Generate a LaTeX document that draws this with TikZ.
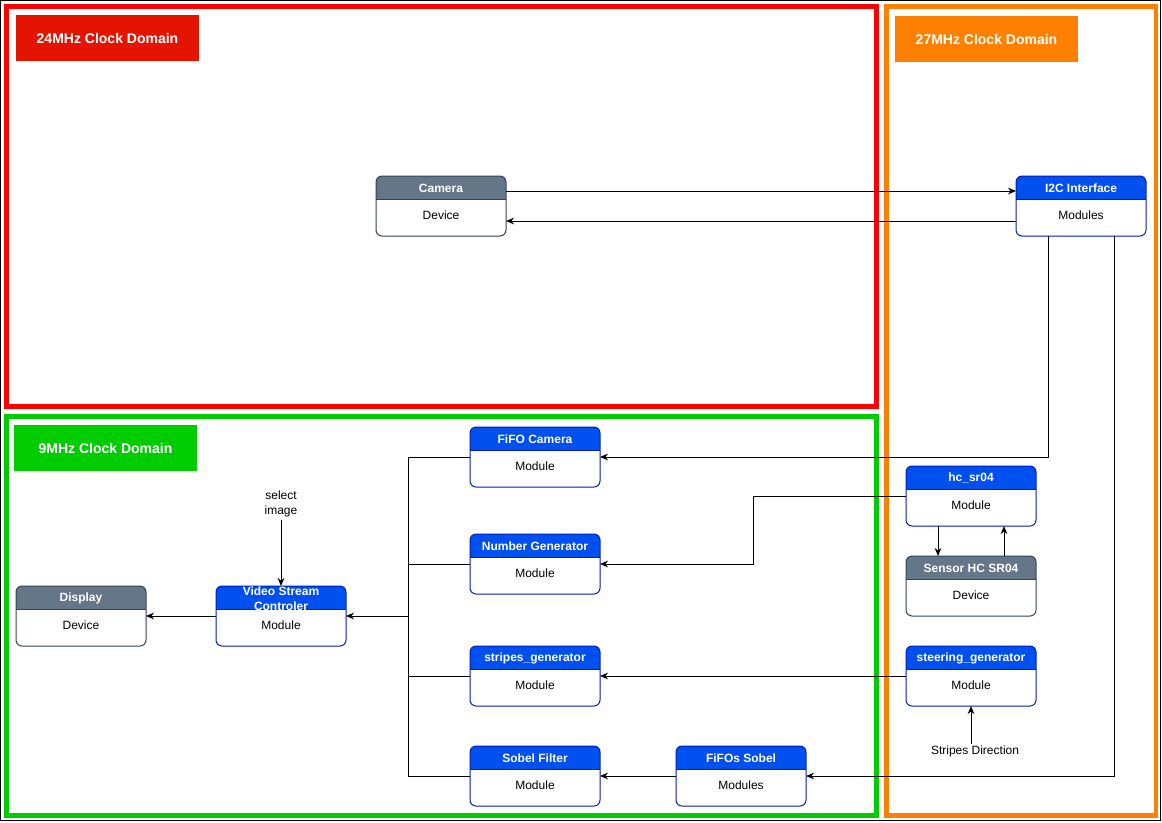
\documentclass[tikz,border=0pt]{standalone}
\usepackage{fontspec}
\setmainfont{Liberation Sans}
\usetikzlibrary{calc,arrows.meta}
\definecolor{grayfill}{HTML}{647687}
\definecolor{graystroke}{HTML}{314354}
\definecolor{bluefill}{HTML}{0050EF}
\definecolor{bluestroke}{HTML}{001DBC}
\definecolor{redframe}{HTML}{FF0000}
\definecolor{redlabel}{HTML}{E51400}
\definecolor{greenframe}{HTML}{00CC00}
\definecolor{orangeframe}{HTML}{FF8000}
\tikzset{
  boxbody/.style={rectangle, minimum width=97.5pt, minimum height=45pt, inner sep=0pt, outer sep=0pt, fill=white},
  titletext/.style={text=white, font=\bfseries\fontsize{9}{11.25}\selectfont, align=center, inner sep=0pt},
  bodytext/.style={font=\fontsize{9}{10.5}\selectfont, inner sep=0pt},
  domainlabel/.style={rectangle, minimum width=137.25pt, minimum height=34.5pt, inner sep=0pt, text=white, font=\bfseries\fontsize{10.5}{12}\selectfont},
  frame/.style={line width=3.6pt},
  conn/.style={draw=black, line width=0.75pt, -{Stealth[length=6pt,width=5pt]}},
  plainconn/.style={draw=black, line width=0.75pt},
  freetext/.style={font=\fontsize{9}{11.25}\selectfont, align=center, inner sep=0pt},
}
% name, center x, center y, title, body, fill, stroke
\newcommand{\swimbox}[7]{%
  \node[boxbody] (#1) at (#2,#3) {};
  \begin{scope}
    \clip[rounded corners=4.5pt] (#1.north west) rectangle (#1.south east);
    \fill[#6] (#1.north west) rectangle ($(#1.north east)+(0,23)$);
  \end{scope}
  \draw[#7, line width=0.75pt, rounded corners=4.5pt] (#1.north west) rectangle (#1.south east);
  \draw[#7, line width=0.75pt] ($(#1.north west)+(0,23)$) -- ($(#1.north east)+(0,23)$);
  \node[titletext] (#1-title) at ($(#1.north)+(0,12.2)$) {#4};
  \node[bodytext] (#1-body) at ($(#1.north)+(0,39.5)$) {#5};
}
\begin{document}
\begin{tikzpicture}[x=0.75pt,y=-0.75pt]
\useasboundingbox (0,0) rectangle (1162,822);
\fill[white] (0,0) rectangle (1162,822);
\draw[black, line width=1pt] (0.7,0.7) rectangle (1160.5,820.5);

% frames
\draw[frame, redframe] (6.5,6.5) rectangle (876.5,406.5);
\draw[frame, greenframe] (6.5,416.5) rectangle (876.5,815.5);
\draw[frame, orangeframe] (886.5,6.5) rectangle (1156,815.5);

% domain labels
\node[domainlabel, fill=redlabel] (lbl24) at (107.5,38) {24MHz Clock Domain};
\node[domainlabel, fill=orangeframe] (lbl27) at (986.5,39) {27MHz Clock Domain};
\node[domainlabel, fill=greenframe] (lbl9) at (105.5,448) {9MHz Clock Domain};

% boxes
\swimbox{cam}{441}{206}{Camera}{Device}{grayfill}{graystroke}
\swimbox{i2c}{1081}{206}{I2C Interface}{Modules}{bluefill}{bluestroke}
\swimbox{fifocam}{535}{457}{FiFO Camera}{Module}{bluefill}{bluestroke}
\swimbox{numgen}{535}{564}{Number Generator}{Module}{bluefill}{bluestroke}
\swimbox{stripes}{535}{676}{stripes\_generator}{Module}{bluefill}{bluestroke}
\swimbox{sobel}{535}{776}{Sobel Filter}{Module}{bluefill}{bluestroke}
\swimbox{fifosobel}{741}{776}{FiFOs Sobel}{Modules}{bluefill}{bluestroke}
\swimbox{hc}{971}{496}{hc\_sr04}{Module}{bluefill}{bluestroke}
\swimbox{sensor}{971}{586}{Sensor HC SR04}{Device}{grayfill}{graystroke}
\swimbox{steer}{971}{676}{steering\_generator}{Module}{bluefill}{bluestroke}
\swimbox{vsc}{281}{616}{Video Stream\\Controler}{Module}{bluefill}{bluestroke}
\swimbox{disp}{81}{616}{Display}{Device}{grayfill}{graystroke}

% free texts
\node[freetext] (sel) at (281,503.5) {select\\image};
\node[freetext] (sd) at (975,751.5) {Stripes Direction};

% connectors
\draw[conn] ($(cam.east)+(0,-15)$) -- ($(i2c.west)+(0,-15)$);
\draw[conn] ($(i2c.west)+(0,15)$) -- ($(cam.east)+(0,15)$);
\draw[conn] ($(i2c.south)+(-33,0)$) |- (fifocam.east);
\draw[conn] ($(i2c.south)+(33,0)$) |- (fifosobel.east);
\coordinate (hcmid) at ($(numgen.east)!0.5!(hc.west)$);
\draw[conn] (hc.west) -| (hcmid) |- (numgen.east);
\draw[conn] ($(hc.south)+(-33,0)$) -- ($(sensor.north)+(-33,0)$);
\draw[conn] ($(sensor.north)+(33,0)$) -- ($(hc.south)+(33,0)$);
\draw[conn] (steer.west) -- (stripes.east);
\draw[conn] ($(sd.north -| steer.south)+(0,-2)$) -- (steer.south);
\draw[conn] (fifosobel.west) -- (sobel.east);
\coordinate (bus) at (408,616);
\draw[plainconn] (fifocam.west) -| (bus);
\draw[plainconn] (numgen.west) -| (bus);
\draw[plainconn] (stripes.west) -| (bus);
\draw[plainconn] (sobel.west) -| (bus);
\draw[conn] (bus) -- (vsc.east);
\draw[conn] (vsc.west) -- (disp.east);
\draw[conn] ($(sel.south)+(0,3)$) -- (vsc.north);
\end{tikzpicture}
\end{document}
